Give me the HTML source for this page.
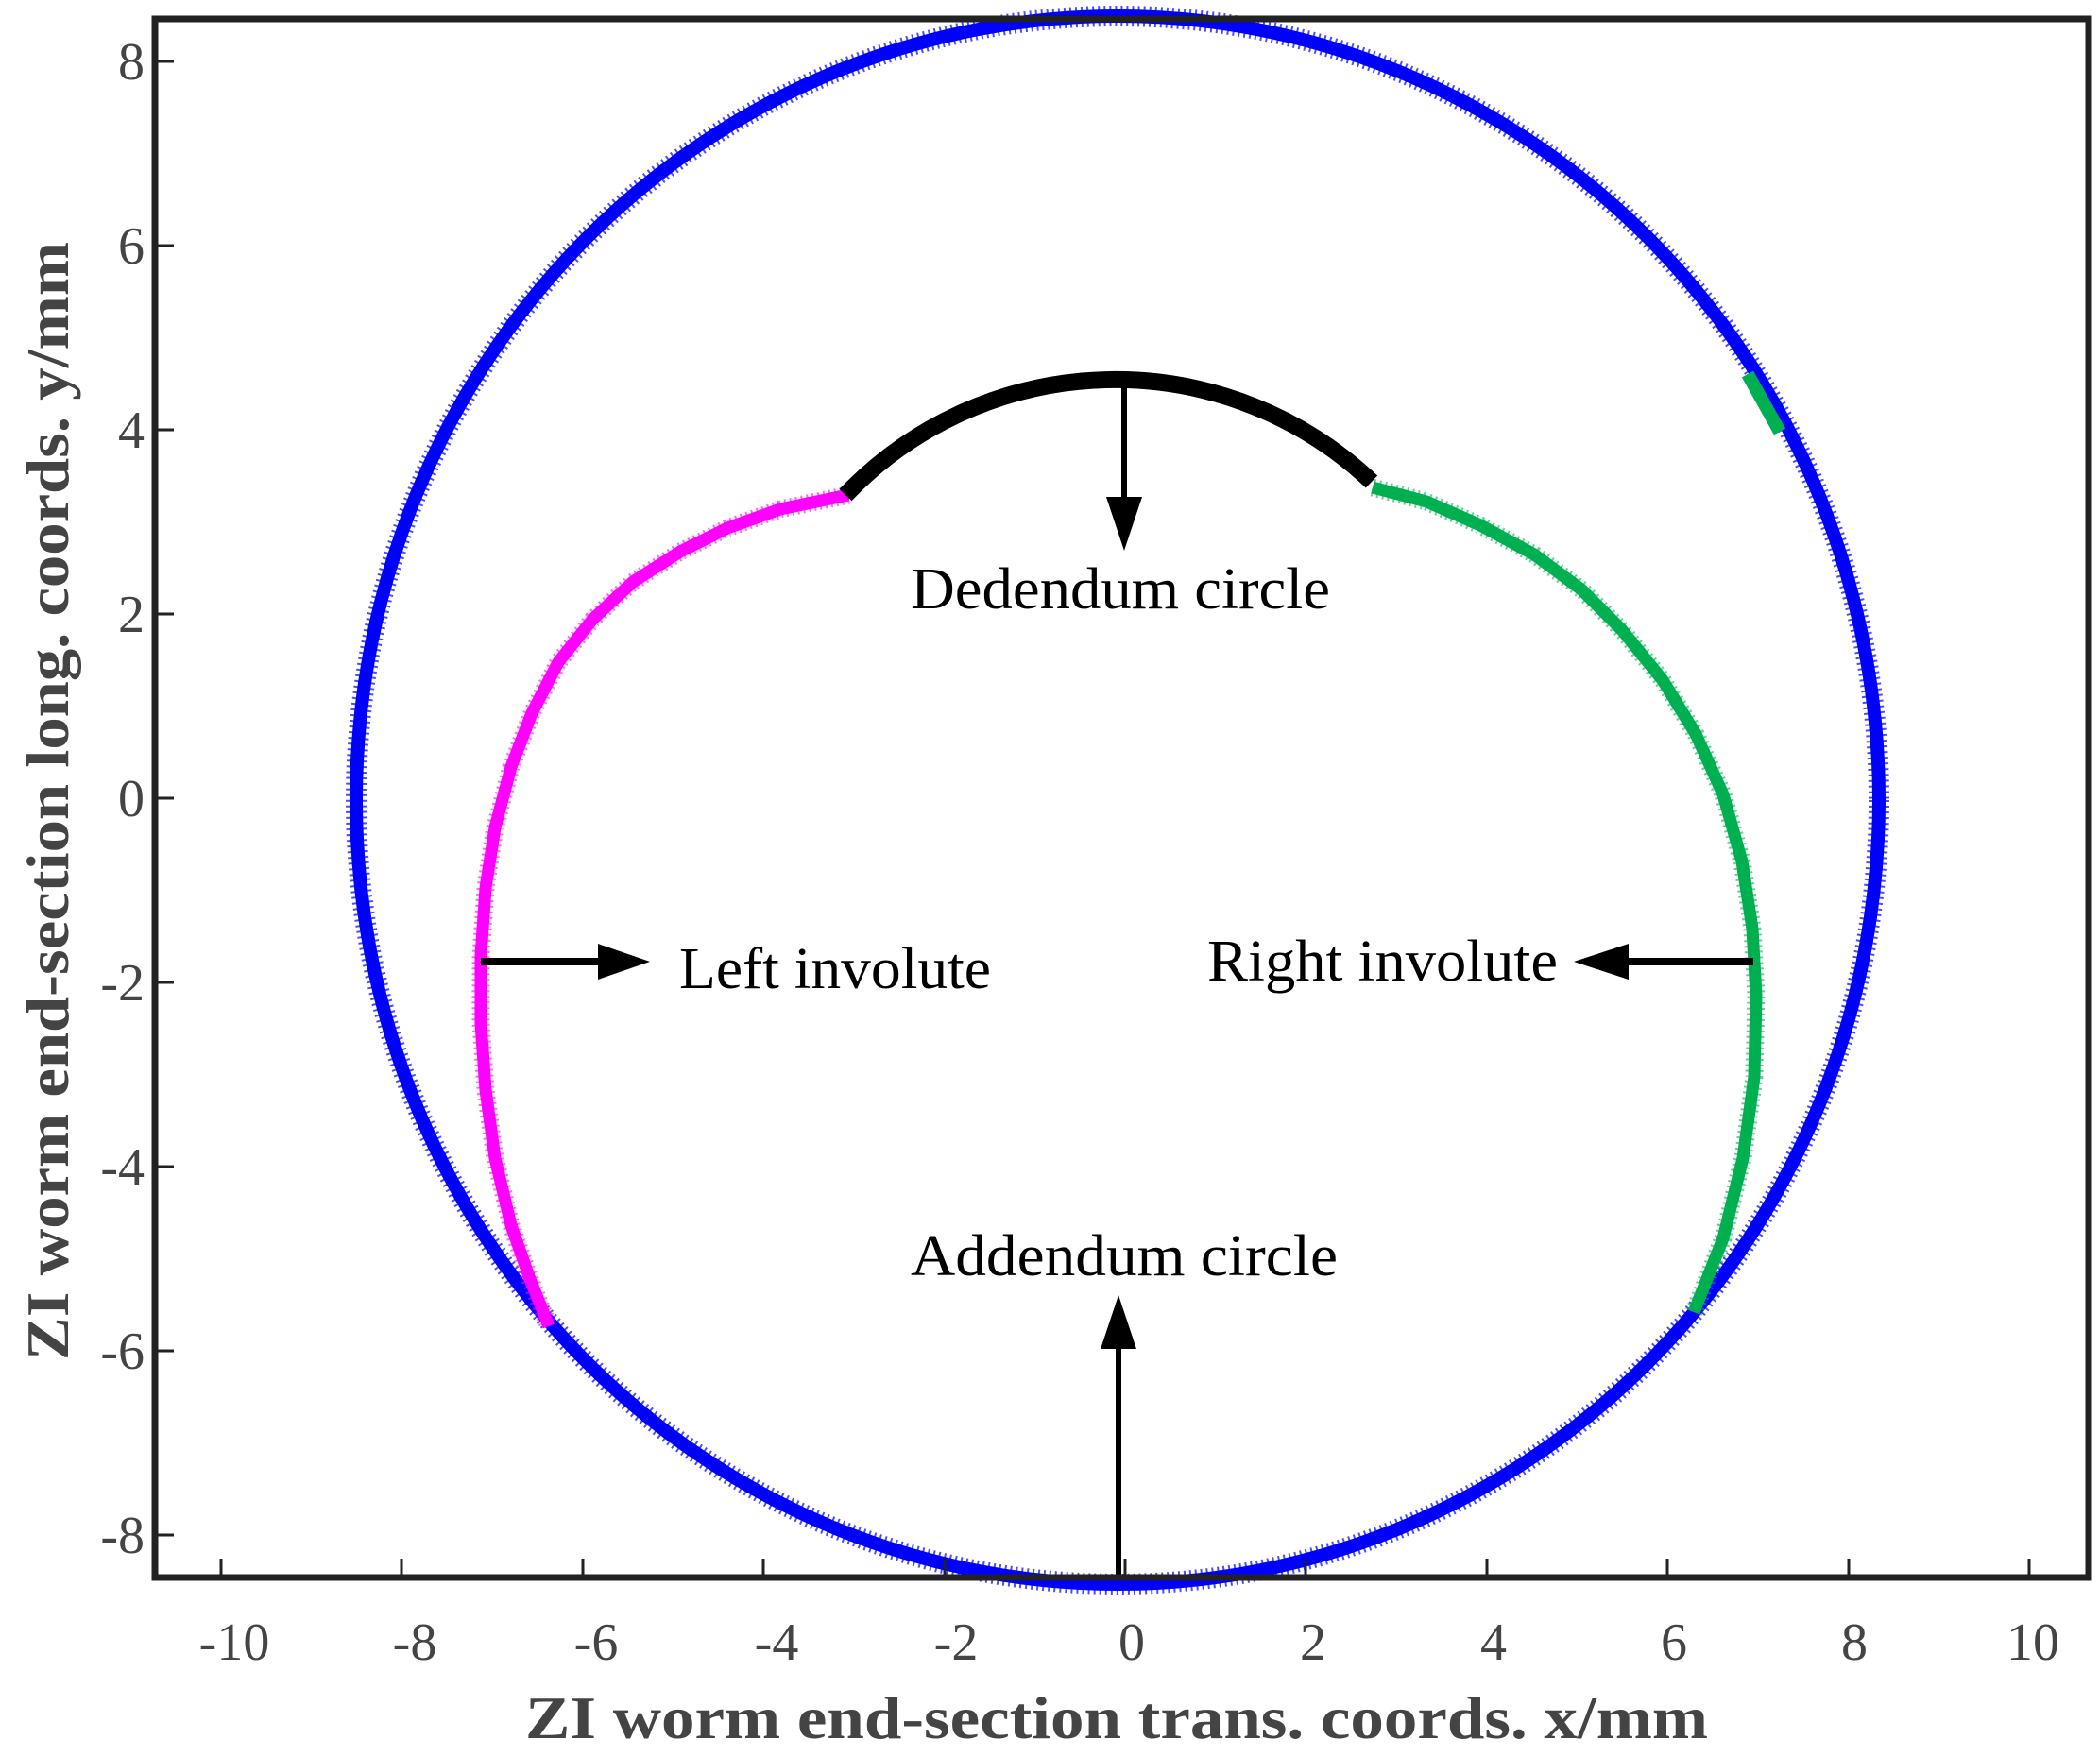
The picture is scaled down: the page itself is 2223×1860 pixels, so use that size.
<!DOCTYPE html>
<html><head><meta charset="utf-8"><style>
html,body{margin:0;padding:0;background:#fff;}
svg{display:block;}
</style></head><body>
<svg width="2223" height="1860" viewBox="0 0 2223 1860" xmlns="http://www.w3.org/2000/svg">
<rect width="2223" height="1860" fill="#fff"/>
<!-- blue addendum circle -->
<ellipse cx="1183" cy="847" rx="806" ry="830" fill="none" stroke="#0000ff" stroke-width="14"/>
<ellipse cx="1183" cy="847" rx="806" ry="830" fill="none" stroke="#0000ff" stroke-width="22" stroke-dasharray="2 4" opacity="0.7"/>
<!-- green snippet on blue -->
<path d="M1850 396 L1884 457" stroke="#00b050" stroke-width="14" fill="none"/>
<!-- magenta left involute -->
<polyline points="898,524 826,539 770,559 720,584 670,616 627,656 591,701 563,755 541,812 524,876 514,940 509,1012 509,1083 514,1154 524,1226 541,1297 561,1354 581,1404" fill="none" stroke="#ff00ff" stroke-width="13" stroke-linejoin="round"/>
<polyline points="898,524 826,539 770,559 720,584 670,616 627,656 591,701 563,755 541,812 524,876 514,940 509,1012 509,1083 514,1154 524,1226 541,1297 561,1354 581,1404" fill="none" stroke="#ff00ff" stroke-width="19" stroke-dasharray="2 4" opacity="0.6" stroke-linejoin="round"/>
<!-- green right involute -->
<polyline points="1453,516 1510,531 1567,556 1624,587 1674,624 1717,667 1760,720 1795,777 1824,841 1844,912 1855,983 1859,1054 1857,1140 1845,1226 1824,1311 1793,1389" fill="none" stroke="#00b050" stroke-width="13" stroke-linejoin="round"/>
<polyline points="1453,516 1510,531 1567,556 1624,587 1674,624 1717,667 1760,720 1795,777 1824,841 1844,912 1855,983 1859,1054 1857,1140 1845,1226 1824,1311 1793,1389" fill="none" stroke="#00b050" stroke-width="19" stroke-dasharray="2 4" opacity="0.6" stroke-linejoin="round"/>
<!-- black dedendum arc -->
<path d="M895 524 A 395 395 0 0 1 1452 510" fill="none" stroke="#000" stroke-width="18"/>
<!-- arrows -->
<g fill="#000" stroke="#000">
<line x1="1190" y1="410" x2="1190" y2="535" stroke-width="6"/>
<polygon points="1171,526 1209,526 1190,583" stroke="none"/>
<line x1="509" y1="1018" x2="640" y2="1018" stroke-width="8"/>
<polygon points="633,999 633,1037 688,1018" stroke="none"/>
<line x1="1856" y1="1018" x2="1718" y2="1018" stroke-width="8"/>
<polygon points="1724,999 1724,1037 1666,1018" stroke="none"/>
<line x1="1184" y1="1672" x2="1184" y2="1420" stroke-width="6"/>
<polygon points="1165,1428 1203,1428 1184,1371" stroke="none"/>
</g>
<!-- annotation text -->
<g font-family="'Liberation Serif', serif" font-size="62" fill="#000">
<text x="964" y="644" textLength="444" lengthAdjust="spacingAndGlyphs">Dedendum circle</text>
<text x="719" y="1046" textLength="330" lengthAdjust="spacingAndGlyphs">Left involute</text>
<text x="1278" y="1038" textLength="371" lengthAdjust="spacingAndGlyphs">Right involute</text>
<text x="964" y="1350" textLength="452" lengthAdjust="spacingAndGlyphs">Addendum circle</text>
</g>
<!-- frame -->
<rect x="164" y="20" width="2047" height="1650" fill="none" stroke="#222" stroke-width="7"/>
<!-- ticks -->
<g stroke="#222" stroke-width="3">
<line x1="234" y1="1670" x2="234" y2="1650"/>
<line x1="425" y1="1670" x2="425" y2="1650"/>
<line x1="617" y1="1670" x2="617" y2="1650"/>
<line x1="808" y1="1670" x2="808" y2="1650"/>
<line x1="1000" y1="1670" x2="1000" y2="1650"/>
<line x1="1191" y1="1670" x2="1191" y2="1650"/>
<line x1="1382" y1="1670" x2="1382" y2="1650"/>
<line x1="1574" y1="1670" x2="1574" y2="1650"/>
<line x1="1765" y1="1670" x2="1765" y2="1650"/>
<line x1="1957" y1="1670" x2="1957" y2="1650"/>
<line x1="2148" y1="1670" x2="2148" y2="1650"/>
<line x1="164" y1="65" x2="184" y2="65"/>
<line x1="164" y1="260" x2="184" y2="260"/>
<line x1="164" y1="455" x2="184" y2="455"/>
<line x1="164" y1="650" x2="184" y2="650"/>
<line x1="164" y1="845" x2="184" y2="845"/>
<line x1="164" y1="1040" x2="184" y2="1040"/>
<line x1="164" y1="1235" x2="184" y2="1235"/>
<line x1="164" y1="1430" x2="184" y2="1430"/>
<line x1="164" y1="1625" x2="184" y2="1625"/>
</g>
<g font-family="'Liberation Serif', serif" font-size="56" fill="#444">
<g text-anchor="middle">
<text x="248" y="1757">-10</text>
<text x="439" y="1757">-8</text>
<text x="631" y="1757">-6</text>
<text x="822" y="1757">-4</text>
<text x="1012" y="1757">-2</text>
<text x="1198" y="1757">0</text>
<text x="1390" y="1757">2</text>
<text x="1581" y="1757">4</text>
<text x="1772" y="1757">6</text>
<text x="1963" y="1757">8</text>
<text x="2152" y="1757">10</text>
</g>
<g text-anchor="end">
<text x="153" y="84">8</text>
<text x="153" y="279">6</text>
<text x="153" y="474">4</text>
<text x="153" y="669">2</text>
<text x="153" y="864">0</text>
<text x="153" y="1059">-2</text>
<text x="153" y="1254">-4</text>
<text x="153" y="1449">-6</text>
<text x="153" y="1644">-8</text>
</g>
</g>
<g font-family="'Liberation Serif', serif" font-size="64" font-weight="bold" fill="#444">
<text x="556" y="1840" textLength="1252" lengthAdjust="spacingAndGlyphs">ZI worm end-section trans. coords. x/mm</text>
<text transform="translate(72,1440) rotate(-90)" x="0" y="0" textLength="1184" lengthAdjust="spacingAndGlyphs">ZI worm end-section long. coords. y/mm</text>
</g>
</svg>
</body></html>
